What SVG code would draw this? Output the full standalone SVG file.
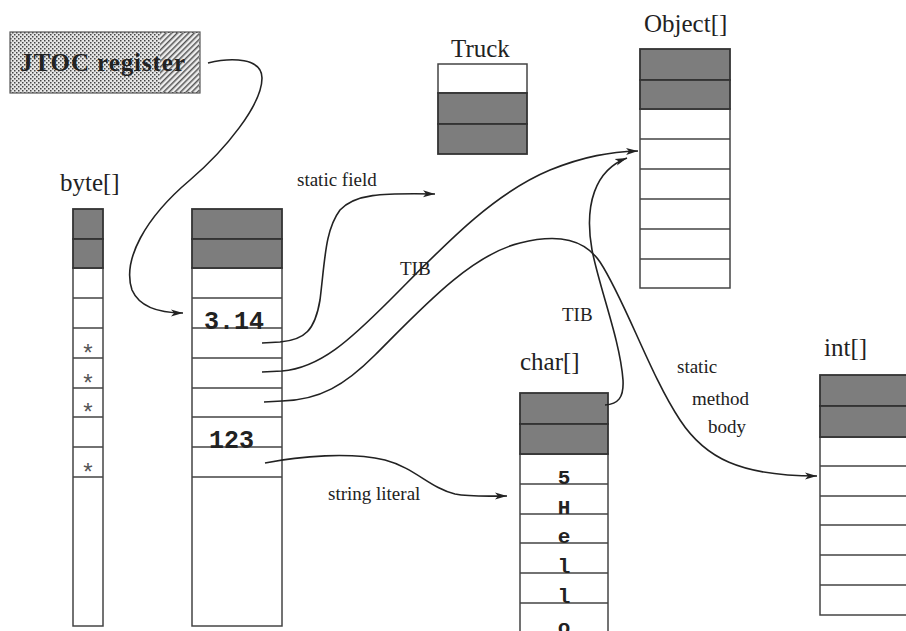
<svg xmlns="http://www.w3.org/2000/svg" width="906" height="631" viewBox="0 0 906 631">
  <style>
    .label { font-family: "Liberation Serif", "Times New Roman", serif; fill: #222; }
    .big { font-size: 25px; }
    .small { font-size: 19px; }
    .mono { font-family: "Liberation Mono", "Courier New", monospace; font-weight: bold; fill: #222; }
    .cell { fill: #fff; stroke: #444; stroke-width: 1.5; }
    .hdr { fill: #7d7d7d; stroke: #333; stroke-width: 1.8; }
    .row { stroke: #444; stroke-width: 1.5; }
    .star { font-family: "Liberation Mono", monospace; font-size: 24px; fill: #555; text-anchor: middle; }
    .wire { fill: none; stroke: #222; stroke-width: 1.6; }
  </style>
  <defs>
    <pattern id="stipple" width="4" height="4" patternUnits="userSpaceOnUse">
      <rect width="4" height="4" fill="#e6e6e6"/>
      <rect x="0" y="0" width="1.5" height="1.5" fill="#444"/>
      <rect x="2" y="2" width="1.5" height="1.5" fill="#444"/>
    </pattern>
    <pattern id="hatch" width="4" height="4" patternUnits="userSpaceOnUse" patternTransform="rotate(45)">
      <rect width="4" height="4" fill="#eee"/>
      <rect width="1.5" height="4" fill="#555"/>
    </pattern>
    <marker id="arrow" markerWidth="13" markerHeight="8" refX="12" refY="4" orient="auto" markerUnits="userSpaceOnUse">
      <path d="M0,0.5 L12,4 L0,7.5 L3,4 z" fill="#222"/>
    </marker>
  </defs>

  <!-- JTOC register -->
  <g id="jtoc-register">
    <rect x="10" y="32" width="190" height="61" fill="url(#stipple)" stroke="#555" stroke-width="1.2"/>
    <rect x="160" y="33" width="39" height="59" fill="url(#hatch)"/>
    <text x="20" y="71" class="label" font-size="25" font-weight="bold" textLength="165">JTOC  register</text>
  </g>

  <!-- byte[] -->
  <g id="byte-array">
    <text x="60" y="191" class="label big">byte[]</text>
    <rect x="73" y="268" width="30" height="358" class="cell"/>
    <rect x="73" y="209" width="30" height="30" class="hdr"/>
    <rect x="73" y="239" width="30" height="29" class="hdr"/>
    <path class="row" d="M73,298H103M73,328H103M73,358H103M73,388H103M73,417H103M73,447H103M73,477H103"/>
    <text x="88" y="362" class="star">*</text>
    <text x="88" y="392" class="star">*</text>
    <text x="88" y="421" class="star">*</text>
    <text x="88" y="481" class="star">*</text>
  </g>

  <!-- JTOC -->
  <g id="jtoc">
    <rect x="192" y="268" width="90" height="358" class="cell"/>
    <rect x="192" y="209" width="90" height="30" class="hdr"/>
    <rect x="192" y="239" width="90" height="29" class="hdr"/>
    <path class="row" d="M192,298H282M192,328H282M192,358H282M192,388H282M192,417H282M192,447H282M192,477H282"/>
    <text x="204" y="329" class="mono" font-size="25">3.14</text>
    <text x="209" y="448" class="mono" font-size="25">123</text>
  </g>

  <!-- Truck -->
  <g id="truck">
    <text x="451" y="57" class="label big">Truck</text>
    <rect x="438" y="64" width="89" height="29" class="cell"/>
    <rect x="438" y="93" width="89" height="31" class="hdr"/>
    <rect x="438" y="124" width="89" height="30" class="hdr"/>
  </g>

  <!-- Object[] -->
  <g id="object-array">
    <text x="644" y="32" class="label big">Object[]</text>
    <rect x="640" y="109" width="90" height="179" class="cell"/>
    <rect x="640" y="49" width="90" height="31" class="hdr"/>
    <rect x="640" y="80" width="90" height="29" class="hdr"/>
    <path class="row" d="M640,139H730M640,169H730M640,199H730M640,229H730M640,259H730"/>
  </g>

  <!-- char[] -->
  <g id="char-array">
    <text x="520" y="370" class="label big">char[]</text>
    <rect x="520" y="454" width="88" height="190" class="cell"/>
    <rect x="520" y="393" width="88" height="31" class="hdr"/>
    <rect x="520" y="424" width="88" height="30" class="hdr"/>
    <path class="row" d="M520,484H608M520,514H608M520,543H608M520,573H608M520,603H608"/>
    <g class="mono" font-size="21" text-anchor="middle">
      <text x="564" y="484">5</text>
      <text x="564" y="514">H</text>
      <text x="564" y="543">e</text>
      <text x="564" y="573">l</text>
      <text x="564" y="603">l</text>
      <text x="564" y="634">o</text>
    </g>
  </g>

  <!-- int[] -->
  <g id="int-array">
    <text x="824" y="356" class="label big">int[]</text>
    <rect x="820" y="437" width="92" height="178" class="cell"/>
    <rect x="820" y="375" width="92" height="31" class="hdr"/>
    <rect x="820" y="406" width="92" height="31" class="hdr"/>
    <path class="row" d="M820,466H912M820,496H912M820,525H912M820,555H912M820,585H912"/>
  </g>

  <!-- connectors -->
  <g id="connectors">
    <path class="wire" marker-end="url(#arrow)" d="M208,63 C232,57 262,58 262,78 C262,105 225,150 190,180 C145,218 122,260 132,290 C140,308 160,313 183,313"/>
    <path class="wire" marker-end="url(#arrow)" d="M262,343 L280,342 C305,340 315,330 320,300 C325,260 325,230 340,210 C355,194 380,193 435,194"/>
    <path class="wire" marker-end="url(#arrow)" d="M262,372 L282,371 C320,368 350,340 390,300 C440,250 490,195 550,170 C585,156 610,152 638,151"/>
    <path class="wire" marker-end="url(#arrow)" d="M264,402 L282,401 C320,400 345,385 375,355 C420,310 470,255 520,243 C560,233 585,240 600,262 C625,300 650,375 680,420 C705,458 740,476 817,476"/>
    <path class="wire" marker-end="url(#arrow)" d="M605,405 C618,404 624,398 623,380 C620,340 600,290 592,250 C584,205 595,170 627,158"/>
    <path class="wire" marker-end="url(#arrow)" d="M265,463 C300,456 350,452 385,460 C415,468 430,488 455,494 C470,497 490,496 507,496"/>
  </g>

  <!-- connector labels -->
  <g id="labels" class="label small">
    <text x="297" y="186">static field</text>
    <text x="400" y="275">TIB</text>
    <text x="562" y="321">TIB</text>
    <text x="328" y="500">string literal</text>
    <text x="677" y="373">static</text>
    <text x="692" y="405">method</text>
    <text x="708" y="433">body</text>
  </g>
</svg>
